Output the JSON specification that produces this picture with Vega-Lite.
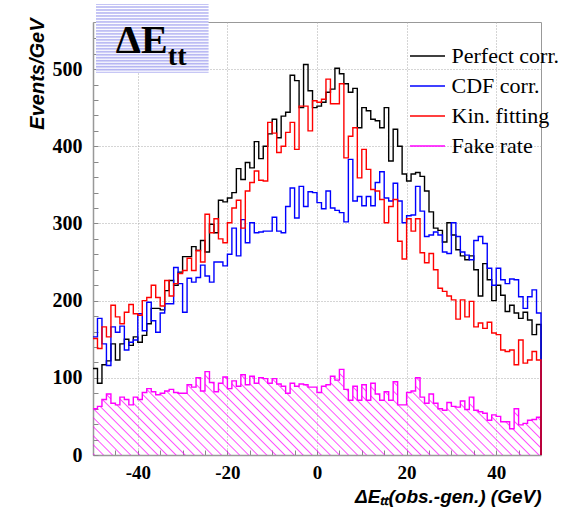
{
"$schema":"https://vega.github.io/schema/vega-lite/v6.json",
"width":448,"height":433,
"autosize":{"type":"none"},
"padding":{"left":93,"top":22,"right":33,"bottom":62},
"background":"white",
"config":{"view":{"stroke":"#999","strokeWidth":1},"font":"Liberation Sans",
"axis":{"domainColor":"#999","domainWidth":1.5,"tickColor":"#888","tickWidth":1,"labelFont":"Liberation Serif","labelFontWeight":"bold","labelFontSize":20,"labelColor":"black","gridColor":"#aaa","gridDash":[1,2],"gridWidth":1,"labelOverlap":false,"labelFlush":false,"titleColor":"black","tickCount":100}},
"datasets":{"h":[
{"x":-50,"perfect":112,"cdf":153,"kin":151,"fake":60},
{"x":-49,"perfect":93,"cdf":177,"kin":138,"fake":63},
{"x":-48,"perfect":117,"cdf":144,"kin":166,"fake":72},
{"x":-47,"perfect":122,"cdf":116,"kin":153,"fake":79},
{"x":-46,"perfect":144,"cdf":166,"kin":194,"fake":67},
{"x":-45,"perfect":123,"cdf":159,"kin":179,"fake":65},
{"x":-44,"perfect":144,"cdf":167,"kin":170,"fake":75},
{"x":-43,"perfect":150,"cdf":136,"kin":185,"fake":72},
{"x":-42,"perfect":142,"cdf":146,"kin":195,"fake":65},
{"x":-41,"perfect":153,"cdf":149,"kin":183,"fake":75},
{"x":-40,"perfect":146,"cdf":183,"kin":181,"fake":72},
{"x":-39,"perfect":155,"cdf":161,"kin":200,"fake":81},
{"x":-38,"perfect":170,"cdf":198,"kin":204,"fake":86},
{"x":-37,"perfect":190,"cdf":174,"kin":220,"fake":82},
{"x":-36,"perfect":190,"cdf":159,"kin":204,"fake":78},
{"x":-35,"perfect":188,"cdf":184,"kin":193,"fake":80},
{"x":-34,"perfect":213,"cdf":196,"kin":226,"fake":83},
{"x":-33,"perfect":226,"cdf":196,"kin":206,"fake":85},
{"x":-32,"perfect":220,"cdf":243,"kin":222,"fake":81},
{"x":-31,"perfect":237,"cdf":222,"kin":235,"fake":80},
{"x":-30,"perfect":257,"cdf":185,"kin":239,"fake":80},
{"x":-29,"perfect":257,"cdf":229,"kin":255,"fake":91},
{"x":-28,"perfect":270,"cdf":224,"kin":239,"fake":88},
{"x":-27,"perfect":265,"cdf":230,"kin":265,"fake":100},
{"x":-26,"perfect":278,"cdf":246,"kin":250,"fake":83},
{"x":-25,"perfect":263,"cdf":232,"kin":312,"fake":108},
{"x":-24,"perfect":299,"cdf":224,"kin":288,"fake":94},
{"x":-23,"perfect":288,"cdf":250,"kin":306,"fake":82},
{"x":-22,"perfect":330,"cdf":250,"kin":280,"fake":93},
{"x":-21,"perfect":328,"cdf":245,"kin":275,"fake":101},
{"x":-20,"perfect":333,"cdf":260,"kin":301,"fake":86},
{"x":-19,"perfect":340,"cdf":294,"kin":320,"fake":96},
{"x":-18,"perfect":371,"cdf":258,"kin":330,"fake":89},
{"x":-17,"perfect":357,"cdf":305,"kin":294,"fake":104},
{"x":-16,"perfect":379,"cdf":275,"kin":342,"fake":91},
{"x":-15,"perfect":372,"cdf":301,"kin":353,"fake":102},
{"x":-14,"perfect":406,"cdf":288,"kin":368,"fake":93},
{"x":-13,"perfect":384,"cdf":289,"kin":356,"fake":100},
{"x":-12,"perfect":400,"cdf":290,"kin":355,"fake":99},
{"x":-11,"perfect":416,"cdf":290,"kin":431,"fake":93},
{"x":-10,"perfect":435,"cdf":308,"kin":417,"fake":99},
{"x":-9,"perfect":411,"cdf":290,"kin":392,"fake":92},
{"x":-8,"perfect":439,"cdf":288,"kin":400,"fake":89},
{"x":-7,"perfect":444,"cdf":322,"kin":418,"fake":80},
{"x":-6,"perfect":492,"cdf":346,"kin":431,"fake":93},
{"x":-5,"perfect":485,"cdf":307,"kin":396,"fake":89},
{"x":-4,"perfect":450,"cdf":348,"kin":452,"fake":92},
{"x":-3,"perfect":506,"cdf":322,"kin":452,"fake":91},
{"x":-2,"perfect":472,"cdf":341,"kin":420,"fake":88},
{"x":-1,"perfect":450,"cdf":340,"kin":459,"fake":88},
{"x":0,"perfect":452,"cdf":327,"kin":457,"fake":81},
{"x":1,"perfect":457,"cdf":319,"kin":461,"fake":89},
{"x":2,"perfect":470,"cdf":342,"kin":487,"fake":91},
{"x":3,"perfect":474,"cdf":320,"kin":455,"fake":102},
{"x":4,"perfect":501,"cdf":317,"kin":455,"fake":97},
{"x":5,"perfect":494,"cdf":314,"kin":481,"fake":111},
{"x":6,"perfect":481,"cdf":302,"kin":385,"fake":85},
{"x":7,"perfect":470,"cdf":383,"kin":413,"fake":71},
{"x":8,"perfect":475,"cdf":329,"kin":424,"fake":89},
{"x":9,"perfect":424,"cdf":335,"kin":359,"fake":71},
{"x":10,"perfect":450,"cdf":323,"kin":396,"fake":91},
{"x":11,"perfect":446,"cdf":335,"kin":370,"fake":71},
{"x":12,"perfect":435,"cdf":323,"kin":344,"fake":93},
{"x":13,"perfect":433,"cdf":353,"kin":342,"fake":79},
{"x":14,"perfect":424,"cdf":367,"kin":331,"fake":71},
{"x":15,"perfect":450,"cdf":333,"kin":301,"fake":82},
{"x":16,"perfect":381,"cdf":329,"kin":322,"fake":71},
{"x":17,"perfect":422,"cdf":352,"kin":331,"fake":95},
{"x":18,"perfect":400,"cdf":329,"kin":277,"fake":65},
{"x":19,"perfect":364,"cdf":301,"kin":254,"fake":65},
{"x":20,"perfect":355,"cdf":310,"kin":306,"fake":81},
{"x":21,"perfect":364,"cdf":311,"kin":290,"fake":83},
{"x":22,"perfect":366,"cdf":348,"kin":306,"fake":100},
{"x":23,"perfect":361,"cdf":316,"kin":262,"fake":75},
{"x":24,"perfect":342,"cdf":283,"kin":249,"fake":67},
{"x":25,"perfect":315,"cdf":285,"kin":261,"fake":79},
{"x":26,"perfect":294,"cdf":289,"kin":240,"fake":67},
{"x":27,"perfect":291,"cdf":285,"kin":216,"fake":60},
{"x":28,"perfect":276,"cdf":263,"kin":212,"fake":58},
{"x":29,"perfect":301,"cdf":261,"kin":206,"fake":68},
{"x":30,"perfect":285,"cdf":301,"kin":201,"fake":63},
{"x":31,"perfect":266,"cdf":283,"kin":176,"fake":62},
{"x":32,"perfect":258,"cdf":263,"kin":201,"fake":70},
{"x":33,"perfect":253,"cdf":259,"kin":179,"fake":59},
{"x":34,"perfect":258,"cdf":253,"kin":199,"fake":75},
{"x":35,"perfect":240,"cdf":278,"kin":166,"fake":58},
{"x":36,"perfect":206,"cdf":283,"kin":171,"fake":56},
{"x":37,"perfect":248,"cdf":274,"kin":164,"fake":54},
{"x":38,"perfect":227,"cdf":242,"kin":172,"fake":45},
{"x":39,"perfect":200,"cdf":220,"kin":158,"fake":52},
{"x":40,"perfect":220,"cdf":242,"kin":156,"fake":50},
{"x":41,"perfect":207,"cdf":227,"kin":136,"fake":43},
{"x":42,"perfect":186,"cdf":222,"kin":134,"fake":43},
{"x":43,"perfect":194,"cdf":228,"kin":136,"fake":34},
{"x":44,"perfect":184,"cdf":227,"kin":117,"fake":60},
{"x":45,"perfect":177,"cdf":205,"kin":149,"fake":39},
{"x":46,"perfect":185,"cdf":190,"kin":119,"fake":41},
{"x":47,"perfect":175,"cdf":205,"kin":123,"fake":45},
{"x":48,"perfect":156,"cdf":214,"kin":134,"fake":46},
{"x":49,"perfect":169,"cdf":184,"kin":123,"fake":49},
{"x":50,"perfect":0,"cdf":0,"kin":0,"fake":0}
]},
"data":{"name":"h"},
"layer":[
{"mark":{"type":"area","interpolate":"step-after","fill":{"gradient":"linear","x1":0,"y1":1,"x2":1.1492,"y2":0.7802,"stops":[
{"offset":0,"color":"rgba(255,0,255,0)"},{"offset":0.0026,"color":"rgba(255,0,255,0.7)"},{"offset":0.0051,"color":"rgba(255,0,255,0)"},
{"offset":0.017,"color":"rgba(255,0,255,0)"},{"offset":0.0196,"color":"rgba(255,0,255,0.7)"},{"offset":0.0221,"color":"rgba(255,0,255,0)"},
{"offset":0.034,"color":"rgba(255,0,255,0)"},{"offset":0.0366,"color":"rgba(255,0,255,0.7)"},{"offset":0.0391,"color":"rgba(255,0,255,0)"},
{"offset":0.051,"color":"rgba(255,0,255,0)"},{"offset":0.0536,"color":"rgba(255,0,255,0.7)"},{"offset":0.0561,"color":"rgba(255,0,255,0)"},
{"offset":0.068,"color":"rgba(255,0,255,0)"},{"offset":0.0706,"color":"rgba(255,0,255,0.7)"},{"offset":0.0731,"color":"rgba(255,0,255,0)"},
{"offset":0.085,"color":"rgba(255,0,255,0)"},{"offset":0.0876,"color":"rgba(255,0,255,0.7)"},{"offset":0.0901,"color":"rgba(255,0,255,0)"},
{"offset":0.102,"color":"rgba(255,0,255,0)"},{"offset":0.1046,"color":"rgba(255,0,255,0.7)"},{"offset":0.1071,"color":"rgba(255,0,255,0)"},
{"offset":0.119,"color":"rgba(255,0,255,0)"},{"offset":0.1216,"color":"rgba(255,0,255,0.7)"},{"offset":0.1241,"color":"rgba(255,0,255,0)"},
{"offset":0.136,"color":"rgba(255,0,255,0)"},{"offset":0.1386,"color":"rgba(255,0,255,0.7)"},{"offset":0.1411,"color":"rgba(255,0,255,0)"},
{"offset":0.153,"color":"rgba(255,0,255,0)"},{"offset":0.1556,"color":"rgba(255,0,255,0.7)"},{"offset":0.1581,"color":"rgba(255,0,255,0)"},
{"offset":0.17,"color":"rgba(255,0,255,0)"},{"offset":0.1726,"color":"rgba(255,0,255,0.7)"},{"offset":0.1751,"color":"rgba(255,0,255,0)"},
{"offset":0.187,"color":"rgba(255,0,255,0)"},{"offset":0.1896,"color":"rgba(255,0,255,0.7)"},{"offset":0.1921,"color":"rgba(255,0,255,0)"},
{"offset":0.204,"color":"rgba(255,0,255,0)"},{"offset":0.2066,"color":"rgba(255,0,255,0.7)"},{"offset":0.2091,"color":"rgba(255,0,255,0)"},
{"offset":0.221,"color":"rgba(255,0,255,0)"},{"offset":0.2236,"color":"rgba(255,0,255,0.7)"},{"offset":0.2261,"color":"rgba(255,0,255,0)"},
{"offset":0.238,"color":"rgba(255,0,255,0)"},{"offset":0.2406,"color":"rgba(255,0,255,0.7)"},{"offset":0.2431,"color":"rgba(255,0,255,0)"},
{"offset":0.255,"color":"rgba(255,0,255,0)"},{"offset":0.2576,"color":"rgba(255,0,255,0.7)"},{"offset":0.2601,"color":"rgba(255,0,255,0)"},
{"offset":0.272,"color":"rgba(255,0,255,0)"},{"offset":0.2746,"color":"rgba(255,0,255,0.7)"},{"offset":0.2771,"color":"rgba(255,0,255,0)"},
{"offset":0.289,"color":"rgba(255,0,255,0)"},{"offset":0.2916,"color":"rgba(255,0,255,0.7)"},{"offset":0.2941,"color":"rgba(255,0,255,0)"},
{"offset":0.306,"color":"rgba(255,0,255,0)"},{"offset":0.3086,"color":"rgba(255,0,255,0.7)"},{"offset":0.3111,"color":"rgba(255,0,255,0)"},
{"offset":0.323,"color":"rgba(255,0,255,0)"},{"offset":0.3256,"color":"rgba(255,0,255,0.7)"},{"offset":0.3281,"color":"rgba(255,0,255,0)"},
{"offset":0.34,"color":"rgba(255,0,255,0)"},{"offset":0.3426,"color":"rgba(255,0,255,0.7)"},{"offset":0.3451,"color":"rgba(255,0,255,0)"},
{"offset":0.357,"color":"rgba(255,0,255,0)"},{"offset":0.3596,"color":"rgba(255,0,255,0.7)"},{"offset":0.3621,"color":"rgba(255,0,255,0)"},
{"offset":0.374,"color":"rgba(255,0,255,0)"},{"offset":0.3766,"color":"rgba(255,0,255,0.7)"},{"offset":0.3791,"color":"rgba(255,0,255,0)"},
{"offset":0.391,"color":"rgba(255,0,255,0)"},{"offset":0.3936,"color":"rgba(255,0,255,0.7)"},{"offset":0.3961,"color":"rgba(255,0,255,0)"},
{"offset":0.408,"color":"rgba(255,0,255,0)"},{"offset":0.4106,"color":"rgba(255,0,255,0.7)"},{"offset":0.4131,"color":"rgba(255,0,255,0)"},
{"offset":0.425,"color":"rgba(255,0,255,0)"},{"offset":0.4276,"color":"rgba(255,0,255,0.7)"},{"offset":0.4301,"color":"rgba(255,0,255,0)"},
{"offset":0.442,"color":"rgba(255,0,255,0)"},{"offset":0.4446,"color":"rgba(255,0,255,0.7)"},{"offset":0.4471,"color":"rgba(255,0,255,0)"},
{"offset":0.459,"color":"rgba(255,0,255,0)"},{"offset":0.4616,"color":"rgba(255,0,255,0.7)"},{"offset":0.4641,"color":"rgba(255,0,255,0)"},
{"offset":0.476,"color":"rgba(255,0,255,0)"},{"offset":0.4786,"color":"rgba(255,0,255,0.7)"},{"offset":0.4811,"color":"rgba(255,0,255,0)"},
{"offset":0.493,"color":"rgba(255,0,255,0)"},{"offset":0.4956,"color":"rgba(255,0,255,0.7)"},{"offset":0.4981,"color":"rgba(255,0,255,0)"},
{"offset":0.51,"color":"rgba(255,0,255,0)"},{"offset":0.5126,"color":"rgba(255,0,255,0.7)"},{"offset":0.5151,"color":"rgba(255,0,255,0)"},
{"offset":0.527,"color":"rgba(255,0,255,0)"},{"offset":0.5296,"color":"rgba(255,0,255,0.7)"},{"offset":0.5321,"color":"rgba(255,0,255,0)"},
{"offset":0.544,"color":"rgba(255,0,255,0)"},{"offset":0.5466,"color":"rgba(255,0,255,0.7)"},{"offset":0.5491,"color":"rgba(255,0,255,0)"},
{"offset":0.561,"color":"rgba(255,0,255,0)"},{"offset":0.5636,"color":"rgba(255,0,255,0.7)"},{"offset":0.5661,"color":"rgba(255,0,255,0)"},
{"offset":0.578,"color":"rgba(255,0,255,0)"},{"offset":0.5806,"color":"rgba(255,0,255,0.7)"},{"offset":0.5831,"color":"rgba(255,0,255,0)"},
{"offset":0.595,"color":"rgba(255,0,255,0)"},{"offset":0.5976,"color":"rgba(255,0,255,0.7)"},{"offset":0.6001,"color":"rgba(255,0,255,0)"},
{"offset":0.612,"color":"rgba(255,0,255,0)"},{"offset":0.6146,"color":"rgba(255,0,255,0.7)"},{"offset":0.6171,"color":"rgba(255,0,255,0)"},
{"offset":0.629,"color":"rgba(255,0,255,0)"},{"offset":0.6316,"color":"rgba(255,0,255,0.7)"},{"offset":0.6341,"color":"rgba(255,0,255,0)"},
{"offset":0.646,"color":"rgba(255,0,255,0)"},{"offset":0.6486,"color":"rgba(255,0,255,0.7)"},{"offset":0.6511,"color":"rgba(255,0,255,0)"},
{"offset":0.663,"color":"rgba(255,0,255,0)"},{"offset":0.6656,"color":"rgba(255,0,255,0.7)"},{"offset":0.6681,"color":"rgba(255,0,255,0)"},
{"offset":0.68,"color":"rgba(255,0,255,0)"},{"offset":0.6826,"color":"rgba(255,0,255,0.7)"},{"offset":0.6851,"color":"rgba(255,0,255,0)"},
{"offset":0.697,"color":"rgba(255,0,255,0)"},{"offset":0.6996,"color":"rgba(255,0,255,0.7)"},{"offset":0.7021,"color":"rgba(255,0,255,0)"},
{"offset":0.714,"color":"rgba(255,0,255,0)"},{"offset":0.7166,"color":"rgba(255,0,255,0.7)"},{"offset":0.7191,"color":"rgba(255,0,255,0)"},
{"offset":0.731,"color":"rgba(255,0,255,0)"},{"offset":0.7336,"color":"rgba(255,0,255,0.7)"},{"offset":0.7361,"color":"rgba(255,0,255,0)"},
{"offset":0.748,"color":"rgba(255,0,255,0)"},{"offset":0.7506,"color":"rgba(255,0,255,0.7)"},{"offset":0.7531,"color":"rgba(255,0,255,0)"},
{"offset":0.765,"color":"rgba(255,0,255,0)"},{"offset":0.7676,"color":"rgba(255,0,255,0.7)"},{"offset":0.7701,"color":"rgba(255,0,255,0)"},
{"offset":0.782,"color":"rgba(255,0,255,0)"},{"offset":0.7846,"color":"rgba(255,0,255,0.7)"},{"offset":0.7871,"color":"rgba(255,0,255,0)"},
{"offset":0.799,"color":"rgba(255,0,255,0)"},{"offset":0.8016,"color":"rgba(255,0,255,0.7)"},{"offset":0.8041,"color":"rgba(255,0,255,0)"},
{"offset":0.816,"color":"rgba(255,0,255,0)"},{"offset":0.8186,"color":"rgba(255,0,255,0.7)"},{"offset":0.8211,"color":"rgba(255,0,255,0)"},
{"offset":0.833,"color":"rgba(255,0,255,0)"},{"offset":0.8356,"color":"rgba(255,0,255,0.7)"},{"offset":0.8381,"color":"rgba(255,0,255,0)"},
{"offset":0.85,"color":"rgba(255,0,255,0)"},{"offset":0.8526,"color":"rgba(255,0,255,0.7)"},{"offset":0.8551,"color":"rgba(255,0,255,0)"},
{"offset":0.867,"color":"rgba(255,0,255,0)"},{"offset":0.8696,"color":"rgba(255,0,255,0.7)"},{"offset":0.8721,"color":"rgba(255,0,255,0)"},
{"offset":0.884,"color":"rgba(255,0,255,0)"},{"offset":0.8866,"color":"rgba(255,0,255,0.7)"},{"offset":0.8891,"color":"rgba(255,0,255,0)"},
{"offset":0.901,"color":"rgba(255,0,255,0)"},{"offset":0.9036,"color":"rgba(255,0,255,0.7)"},{"offset":0.9061,"color":"rgba(255,0,255,0)"},
{"offset":0.918,"color":"rgba(255,0,255,0)"},{"offset":0.9206,"color":"rgba(255,0,255,0.7)"},{"offset":0.9231,"color":"rgba(255,0,255,0)"},
{"offset":0.935,"color":"rgba(255,0,255,0)"},{"offset":0.9376,"color":"rgba(255,0,255,0.7)"},{"offset":0.9401,"color":"rgba(255,0,255,0)"},
{"offset":0.952,"color":"rgba(255,0,255,0)"},{"offset":0.9546,"color":"rgba(255,0,255,0.7)"},{"offset":0.9571,"color":"rgba(255,0,255,0)"},
{"offset":0.969,"color":"rgba(255,0,255,0)"},{"offset":0.9716,"color":"rgba(255,0,255,0.7)"},{"offset":0.9741,"color":"rgba(255,0,255,0)"},
{"offset":0.986,"color":"rgba(255,0,255,0)"},{"offset":0.9886,"color":"rgba(255,0,255,0.7)"},{"offset":0.9911,"color":"rgba(255,0,255,0)"},
{"offset":1,"color":"rgba(255,0,255,0)"}
]}},
"encoding":{
"x":{"field":"x","type":"quantitative","scale":{"domain":[-50,50],"nice":false,"zero":false},
"axis":{"values":[-45,-40,-35,-30,-25,-20,-15,-10,-5,0,5,10,15,20,25,30,35,40,45],"tickCount":100,"labelOverlap":false,"labelExpr":"datum.value % 20 === 0 ? datum.value : ''","tickSize":-5,"labelPadding":13,"labelFontSize":19,"grid":true,"gridOpacity":{"condition":{"test":"datum.value % 20 === 0","value":1},"value":0},
"title":"ΔEₜₜ(obs.-gen.) (GeV)","titleFont":"Liberation Sans","titleFontWeight":"bold","titleFontStyle":"italic","titleFontSize":19,"titleAnchor":"end","titleAlign":"right","titleBaseline":"alphabetic","titleX":448,"titleY":47}},
"y":{"field":"fake","type":"quantitative","scale":{"domain":[0,561],"nice":false},
"axis":{"values":[0,20,40,60,80,100,120,140,160,180,200,220,240,260,280,300,320,340,360,380,400,420,440,460,480,500,520,540],"tickCount":100,"labelOverlap":false,"labelExpr":"datum.value % 100 === 0 ? datum.value : ''","tickSize":-5,"labelPadding":16,"grid":true,"gridOpacity":{"condition":{"test":"datum.value % 100 === 0 && datum.value > 0","value":1},"value":0},
"title":"Events/GeV","titleFont":"Liberation Sans","titleFontWeight":"bold","titleFontStyle":"italic","titleFontSize":20,"titleAngle":270,"titleAnchor":"end","titleAlign":"right","titleBaseline":"alphabetic","titleX":-50,"titleY":-4}}
}},
{"transform":[{"fold":["fake","perfect","cdf","kin"],"as":["s","n"]}],
"mark":{"type":"line","interpolate":"step-after","strokeWidth":1.4},
"encoding":{
"x":{"field":"x","type":"quantitative","scale":{"domain":[-50,50],"nice":false,"zero":false}},
"y":{"field":"n","type":"quantitative","scale":{"domain":[0,561],"nice":false}},
"color":{"field":"s","type":"nominal","scale":{"domain":["perfect","cdf","kin","fake"],"range":["#000000","#0000ff","#ff0000","#ff00ff"]},
"legend":{"orient":"none","legendX":323.5,"legendY":23,"title":null,"symbolType":"M-2.5,0H2.5","symbolSize":196,"symbolStrokeWidth":1.5,"labelFont":"Liberation Serif","labelFontSize":22,"labelColor":"black","rowPadding":8,"labelOffset":13,"padding":0,
"labelExpr":"datum.label == 'perfect' ? 'Perfect corr.' : datum.label == 'cdf' ? 'CDF corr.' : datum.label == 'kin' ? 'Kin. fitting' : 'Fake rate'"}}
}},
{"data":{"values":[{}]},
"mark":{"type":"rect","fill":{"gradient":"linear","x1":0,"y1":0,"x2":0,"y2":1,"stops":[
{"offset":0,"color":"#a8a8f0"},{"offset":0.0217,"color":"#ffffff"},
{"offset":0.0435,"color":"#a8a8f0"},{"offset":0.0652,"color":"#ffffff"},
{"offset":0.087,"color":"#a8a8f0"},{"offset":0.1087,"color":"#ffffff"},
{"offset":0.1304,"color":"#a8a8f0"},{"offset":0.1522,"color":"#ffffff"},
{"offset":0.1739,"color":"#a8a8f0"},{"offset":0.1957,"color":"#ffffff"},
{"offset":0.2174,"color":"#a8a8f0"},{"offset":0.2391,"color":"#ffffff"},
{"offset":0.2609,"color":"#a8a8f0"},{"offset":0.2826,"color":"#ffffff"},
{"offset":0.3043,"color":"#a8a8f0"},{"offset":0.3261,"color":"#ffffff"},
{"offset":0.3478,"color":"#a8a8f0"},{"offset":0.3696,"color":"#ffffff"},
{"offset":0.3913,"color":"#a8a8f0"},{"offset":0.413,"color":"#ffffff"},
{"offset":0.4348,"color":"#a8a8f0"},{"offset":0.4565,"color":"#ffffff"},
{"offset":0.4783,"color":"#a8a8f0"},{"offset":0.5,"color":"#ffffff"},
{"offset":0.5217,"color":"#a8a8f0"},{"offset":0.5435,"color":"#ffffff"},
{"offset":0.5652,"color":"#a8a8f0"},{"offset":0.587,"color":"#ffffff"},
{"offset":0.6087,"color":"#a8a8f0"},{"offset":0.6304,"color":"#ffffff"},
{"offset":0.6522,"color":"#a8a8f0"},{"offset":0.6739,"color":"#ffffff"},
{"offset":0.6957,"color":"#a8a8f0"},{"offset":0.7174,"color":"#ffffff"},
{"offset":0.7391,"color":"#a8a8f0"},{"offset":0.7609,"color":"#ffffff"},
{"offset":0.7826,"color":"#a8a8f0"},{"offset":0.8043,"color":"#ffffff"},
{"offset":0.8261,"color":"#a8a8f0"},{"offset":0.8478,"color":"#ffffff"},
{"offset":0.8696,"color":"#a8a8f0"},{"offset":0.8913,"color":"#ffffff"},
{"offset":0.913,"color":"#a8a8f0"},{"offset":0.9348,"color":"#ffffff"},
{"offset":0.9565,"color":"#a8a8f0"},{"offset":0.9783,"color":"#ffffff"},
{"offset":1,"color":"#a8a8f0"}
]}},
"encoding":{"x":{"datum":-49.33,"type":"quantitative"},"x2":{"datum":-24.2},"y":{"datum":495.3,"type":"quantitative"},"y2":{"datum":584.3}}},
{"data":{"values":[{}]},
"mark":{"type":"text","text":"ΔE","font":"Liberation Serif","fontWeight":"bold","fontSize":40,"align":"left","baseline":"alphabetic","color":"black"},
"encoding":{"x":{"datum":-44.9,"type":"quantitative"},"y":{"datum":520.8,"type":"quantitative"}}},
{"data":{"values":[{}]},
"mark":{"type":"text","text":"tt","font":"Liberation Serif","fontWeight":"bold","fontSize":28,"align":"left","baseline":"alphabetic","color":"black"},
"encoding":{"x":{"datum":-33.3,"type":"quantitative"},"y":{"datum":505.3,"type":"quantitative"}}}
]
}
